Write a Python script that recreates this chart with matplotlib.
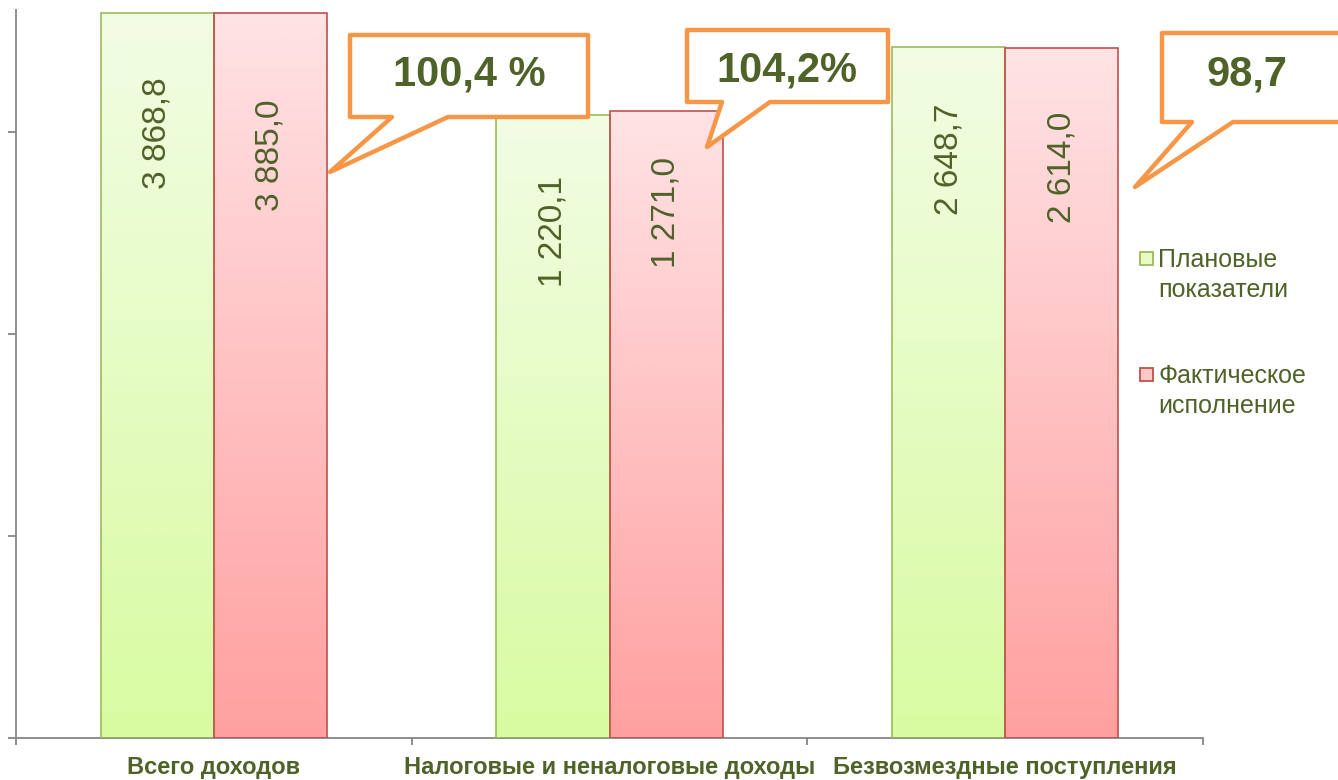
import numpy as np
import matplotlib
matplotlib.use("Agg")
from matplotlib import pyplot as plt
from matplotlib.colors import LinearSegmentedColormap
from matplotlib.patches import Polygon, Rectangle
from matplotlib.transforms import blended_transform_factory
from matplotlib.ticker import FixedLocator, NullFormatter, NullLocator

plt.rcParams['font.family'] = ['Liberation Sans', 'DejaVu Sans']

categories = ['Всего доходов', 'Налоговые и неналоговые доходы', 'Безвозмездные поступления']
plan = [3868.8, 1220.1, 2648.7]
fact = [3885.0, 1271.0, 2614.0]
plan_labels = ['3 868,8', '1 220,1', '2 648,7']
fact_labels = ['3 885,0', '1 271,0', '2 614,0']
percent_labels = ['100,4 %', '104,2%', '98,7']
legend_labels = [['Плановые', 'показатели'], ['Фактическое', 'исполнение']]

TEXT = '#4f6228'
ORANGE = '#f79646'
AXIS = '#868686'
W, H = 1338, 780
YMIN, YMAX = 1, 4020

green_cmap = LinearSegmentedColormap.from_list('g', ['#d8fba1', '#f2fde4'])
red_cmap = LinearSegmentedColormap.from_list('r', ['#ffa0a0', '#ffe3e5'])


def fx(px):
    return px / W


def fy(py):
    return 1 - py / H


fig = plt.figure(figsize=(W / 100, H / 100), dpi=100)
ax = fig.add_axes([fx(16), fy(738), fx(1187), 728 / H])
ax.set_yscale('log')
ax.set_ylim(YMIN, YMAX)
ax.set_xlim(-0.5, len(categories) - 0.5)

x = np.arange(len(categories))
bw = 0.286
ytrans = blended_transform_factory(ax.transData, ax.transAxes)
grad = np.linspace(0, 1, 256).reshape(-1, 1)


def frac(v):
    return (np.log10(v) - np.log10(YMIN)) / (np.log10(YMAX) - np.log10(YMIN))


def gradient_bars(xs, vals, cmap, edge):
    bars = ax.bar(xs, vals, width=bw, bottom=YMIN, facecolor='none',
                  edgecolor=edge, linewidth=1.2, zorder=3)
    for b, v in zip(bars, vals):
        x0 = b.get_x()
        im = ax.imshow(grad, cmap=cmap, aspect='auto', origin='lower',
                       extent=[x0, x0 + bw, 0, frac(v)], transform=ytrans,
                       zorder=2, interpolation='bilinear')
        clip = Rectangle((x0, 0), bw, frac(v), transform=ytrans)
        im.set_clip_path(clip)
    return bars


gradient_bars(x - bw / 2, plan, green_cmap, '#9bbb59')
gradient_bars(x + bw / 2, fact, red_cmap, '#c0504d')

# label drop below the bar top, in points (Excel placed them unevenly)
plan_drop = [-46, -44, -41]
fact_drop = [-62, -33, -46]
for xs, vals, labs, drops in [(x - bw / 2, plan, plan_labels, plan_drop),
                              (x + bw / 2, fact, fact_labels, fact_drop)]:
    for xi, v, lab, d in zip(xs, vals, labs, drops):
        ax.annotate(lab, (xi, v), xytext=(0, d), textcoords='offset points',
                    rotation=90, ha='center', va='top', fontsize=24,
                    color=TEXT, zorder=5)

# axes styling
for s in ['top', 'right']:
    ax.spines[s].set_visible(False)
for s in ['left', 'bottom']:
    ax.spines[s].set_color(AXIS)
    ax.spines[s].set_linewidth(1.3)
ax.yaxis.set_major_locator(FixedLocator([1, 10, 100, 1000]))
ax.yaxis.set_minor_locator(NullLocator())
ax.yaxis.set_major_formatter(NullFormatter())
ax.yaxis.set_minor_formatter(NullFormatter())
ax.tick_params(axis='y', which='major', length=6, width=1.3, color=AXIS, direction='out')
ax.set_xticks(np.arange(len(categories) + 1) - 0.5)
ax.set_xticklabels([])
ax.set_xticks(x, minor=True)
ax.set_xticklabels(categories, minor=True, fontsize=17, fontweight='bold', color=TEXT)
ax.tick_params(axis='x', which='major', length=5, width=1.3, color=AXIS, direction='out')
ax.tick_params(axis='x', which='minor', length=0, pad=13)

# callouts (pixel outlines, y measured from top)
callouts = [
    [(350, 35), (588, 35), (588, 117), (448, 117), (330, 172), (392, 117), (350, 117)],
    [(687, 30), (888, 30), (888, 102), (770, 102), (707, 147), (722, 102), (687, 102)],
    [(1162, 33), (1350, 33), (1350, 122), (1233, 122), (1135, 187), (1192, 122), (1162, 122)],
]
text_pos = [(469, 85), (787, 82), (1247, 85)]
for pts, (tx, ty), lab in zip(callouts, text_pos, percent_labels):
    poly = Polygon([(fx(px), fy(py)) for px, py in pts], closed=True,
                   transform=fig.transFigure, facecolor='white', edgecolor=ORANGE,
                   linewidth=3.2, joinstyle='round', zorder=10)
    fig.patches.append(poly)
    fig.text(fx(tx), fy(ty), lab, ha='center', va='baseline', fontsize=30,
             fontweight='bold', color=TEXT, zorder=11)

# legend
legend_items = [(252, '#e6fcc4', '#9bbb59'), (368, '#ffc8c8', '#c0504d')]
for (top, face, edge), lines in zip(legend_items, legend_labels):
    fig.patches.append(Rectangle((fx(1140), fy(top + 13)), 13 / W, 13 / H,
                                 transform=fig.transFigure, facecolor=face,
                                 edgecolor=edge, linewidth=1.3))
    for i, line in enumerate(lines):
        fig.text(fx(1158), fy(top + 15 + 30 * i), line, ha='left', va='baseline',
                 fontsize=18, color=TEXT)

fig.savefig('out.png', dpi=100)
